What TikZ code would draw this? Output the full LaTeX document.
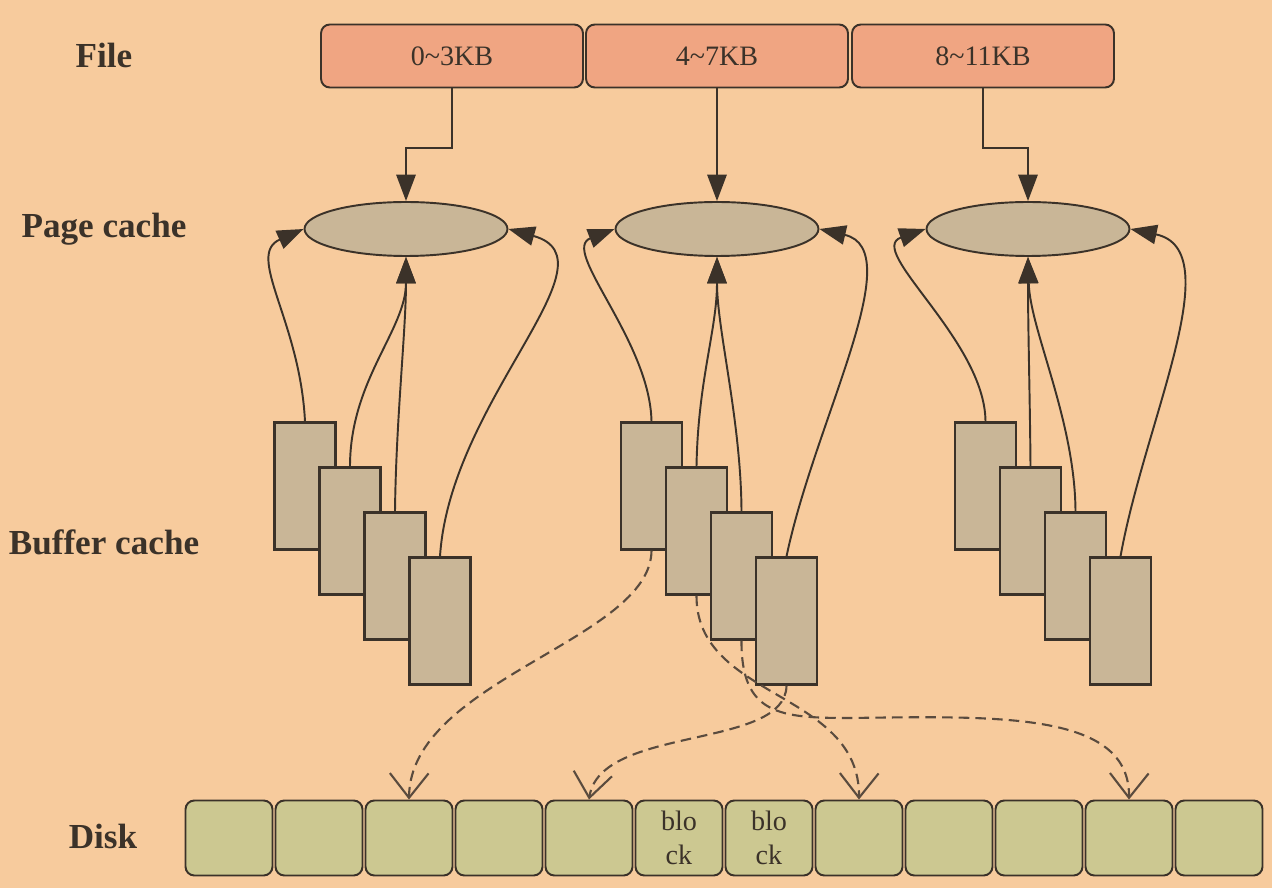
\documentclass[tikz,border=0pt]{standalone}
\usepackage{fontspec}
\setmainfont{Liberation Serif}
\usetikzlibrary{shapes.geometric}
\usetikzlibrary{arrows.meta}

\definecolor{bgc}{HTML}{F7CB9D}
\definecolor{filec}{HTML}{F0A582}
\definecolor{cachec}{HTML}{C9B697}
\definecolor{diskc}{HTML}{CCC891}
\definecolor{edgec}{HTML}{3B3229}
\definecolor{dashc}{HTML}{5A4B3E}

\begin{document}
\begin{tikzpicture}[x=0.02cm,y=-0.02cm,
    lbl/.style={font=\fontsize{20}{24}\selectfont\bfseries,text=edgec},
    filebox/.style={rectangle,rounded corners=5pt,draw=edgec,line width=1.1pt,fill=filec,
                    minimum width=5.24cm,minimum height=1.26cm,inner sep=0pt,
                    font=\fontsize{16}{19}\selectfont,text=edgec},
    page/.style={ellipse,draw=edgec,line width=1.1pt,fill=cachec,
                 minimum width=4.06cm,minimum height=1.08cm,inner sep=0pt},
    buf/.style={rectangle,draw=edgec,line width=1.2pt,fill=cachec,
                minimum width=1.22cm,minimum height=2.54cm,inner sep=0pt},
    blk/.style={rectangle,rounded corners=5pt,draw=edgec,line width=1.1pt,fill=diskc,
                minimum width=1.74cm,minimum height=1.5cm,inner sep=0pt,align=center,
                font=\fontsize{16}{19}\selectfont,text=edgec},
    sol/.style={draw=edgec,line width=1.1pt,-{Triangle[length=15pt,width=11pt]}},
    dsh/.style={draw=dashc,line width=1.2pt,dash pattern=on 6pt off 3.5pt,
                -{Straight Barb[length=14pt,width=22pt]}}]

            %\draw [help lines,step=50] (0,0) grid (1272,888);
            \useasboundingbox (0,0) rectangle (1272,888);
            \fill[bgc] (0,0) rectangle (1272,888);

            \path   (104,55)  node (lfile) [lbl] {File}
                    (104,229) node (lpage) [lbl] {Page cache}
                    (104,542) node (lbuf)  [lbl] {Buffer cache}
                    (103,836) node (ldisk) [lbl] {Disk};

            \path   (452,56)  node (f1) [filebox] {0\char`~3KB}
                    (717,56)  node (f2) [filebox] {4\char`~7KB}
                    (983,56)  node (f3) [filebox] {8\char`~11KB};

            \path   (406,229)  node (p1) [page] {}
                    (717,229)  node (p2) [page] {}
                    (1028,229) node (p3) [page] {};

            \path   (305,486)   node (b11) [buf] {}
                    (350,531)   node (b12) [buf] {}
                    (395,576)   node (b13) [buf] {}
                    (440,621)   node (b14) [buf] {}
                    (651.5,486) node (b21) [buf] {}
                    (696.5,531) node (b22) [buf] {}
                    (741.5,576) node (b23) [buf] {}
                    (786.5,621) node (b24) [buf] {}
                    (985.5,486)  node (b31) [buf] {}
                    (1030.5,531) node (b32) [buf] {}
                    (1075.5,576) node (b33) [buf] {}
                    (1120.5,621) node (b34) [buf] {};

            \path   (229,838)  node (d1)  [blk] {}
                    (319,838)  node (d2)  [blk] {}
                    (409,838)  node (d3)  [blk] {}
                    (499,838)  node (d4)  [blk] {}
                    (589,838)  node (d5)  [blk] {}
                    (679,838)  node (d6)  [blk] {blo\\ck}
                    (769,838)  node (d7)  [blk] {blo\\ck}
                    (859,838)  node (d8)  [blk] {}
                    (949,838)  node (d9)  [blk] {}
                    (1039,838) node (d10) [blk] {}
                    (1129,838) node (d11) [blk] {}
                    (1219,838) node (d12) [blk] {};

            % file -> page cache
            \draw[sol] (f1.south) -- ++(0,60) -| (p1.north);
            \draw[sol] (f2.south) -- (p2.north);
            \draw[sol] (f3.south) -- ++(0,60) -| (p3.north);

            % buffer cache -> page cache
            \draw[sol] (b11.north) .. controls (300,320) and (245,255) .. (p1.west);
            \draw[sol] (b12.north) .. controls (350,380) and (406,330) .. (p1.south);
            \draw[sol] (b13.north) .. controls (396,420) and (406,330) .. (p1.south);
            \draw[sol] (b14.north) .. controls (450,400) and (620,260) .. (p1.east);

            \draw[sol] (b21.north) .. controls (650,340) and (560,250) .. (p2.west);
            \draw[sol] (b22.north) .. controls (698,380) and (717,330) .. (p2.south);
            \draw[sol] (b23.north) .. controls (741,420) and (717,330) .. (p2.south);
            \draw[sol] (b24.north) .. controls (815,420) and (910,250) .. (p2.east);

            \draw[sol] (b31.north) .. controls (985,340) and (865,250) .. (p3.west);
            \draw[sol] (b32.north) .. controls (1030,400) and (1028,330) .. (p3.south);
            \draw[sol] (b33.north) .. controls (1075,420) and (1030,330) .. (p3.south);
            \draw[sol] (b34.north) .. controls (1145,420) and (1230,250) .. (p3.east);

            % buffer cache -> disk
            \draw[dsh] (b21.south) .. controls (651,640) and (410,680) .. (d3.north);
            \draw[dsh] (b22.south) .. controls (696,700) and (860,690) .. (d8.north);
            \draw[dsh] (b23.south) .. controls (741,715) and (780,718) .. (850,718)
                                   .. controls (1000,716) and (1130,712) .. (d11.north);
            \draw[dsh] (b24.south) .. controls (786,750) and (600,725) .. (d5.north);

        \end{tikzpicture}
\end{document}
